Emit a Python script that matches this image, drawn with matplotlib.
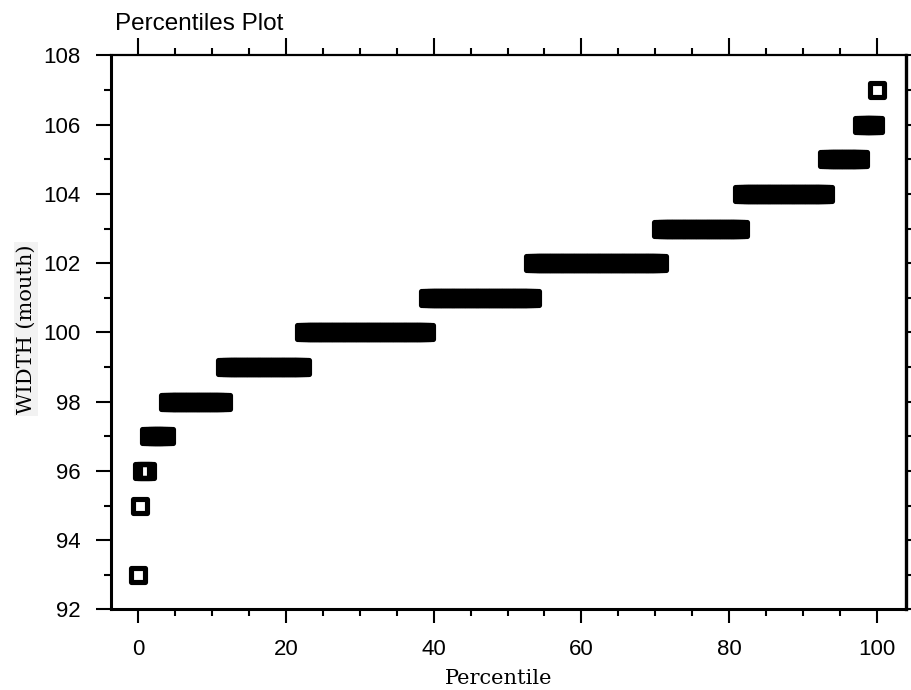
import numpy as np
import matplotlib
matplotlib.use("Agg")
import matplotlib.pyplot as plt
from matplotlib.markers import MarkerStyle
from matplotlib.ticker import MultipleLocator

# Mouth width measurements as a frequency table (value -> number of cases)
width_values = [93, 95, 96, 97, 98, 99, 100, 101, 102, 103, 104, 105, 106, 107]
width_counts = [1, 1, 4, 10, 31, 43, 67, 57, 69, 44, 46, 19, 8, 1]

x_ticks = [0, 20, 40, 60, 80, 100]
y_ticks = [92, 94, 96, 98, 100, 102, 104, 106, 108]

title_text = "Percentiles Plot"
x_label = "Percentile"
y_label = "WIDTH (mouth)"

plt.rcParams["font.family"] = ["Liberation Sans", "DejaVu Sans"]

# Sorted sample and the percentile rank of each observation
sorted_widths = np.repeat(width_values, width_counts)
n_obs = sorted_widths.size
percentiles = 100.0 * np.arange(n_obs) / (n_obs - 1)

fig = plt.figure(figsize=(9.12, 6.9), dpi=100)
ax = fig.add_axes([0.1217, 0.1167, 0.8712, 0.8029])

hollow_square = MarkerStyle("s", fillstyle="none", joinstyle="round")
ax.plot(percentiles, sorted_widths, linestyle="none", marker=hollow_square,
        markersize=10.3, markeredgewidth=3.7, markeredgecolor="black",
        color="black")

ax.set_xlim(-3.65, 103.85)
ax.set_ylim(92, 108)
ax.set_xticks(x_ticks)
ax.set_yticks(y_ticks)
ax.xaxis.set_minor_locator(MultipleLocator(5))
ax.yaxis.set_minor_locator(MultipleLocator(1))

ax.tick_params(axis="x", which="major", length=10, width=1.5, pad=11,
               labelsize=16, direction="out")
ax.tick_params(axis="x", which="minor", length=5, width=1.5, direction="out")
ax.tick_params(axis="y", which="major", length=11, width=1.5, pad=11,
               labelsize=16, direction="out")
ax.tick_params(axis="y", which="minor", length=5, width=1.5, direction="out")

for side in ("left", "bottom"):
    ax.spines[side].set_linewidth(2.2)
ax.spines["top"].set_visible(False)
ax.spines["right"].set_visible(False)

# Frame on top and right with their own tick lengths
top = ax.secondary_xaxis("top")
top.set_xticks(x_ticks, labels=[""] * len(x_ticks))
top.xaxis.set_minor_locator(MultipleLocator(5))
top.tick_params(which="major", length=12, width=1.5)
top.tick_params(which="minor", length=5, width=1.5)
top.spines["top"].set_linewidth(1.6)

right = ax.secondary_yaxis("right")
right.set_yticks(y_ticks, labels=[""] * len(y_ticks))
right.yaxis.set_minor_locator(MultipleLocator(1))
right.tick_params(which="major", length=5, width=1.5)
right.tick_params(which="minor", length=4, width=1.5)
right.spines["right"].set_linewidth(2.4)

ax.set_xlabel(x_label, family="DejaVu Serif", fontsize=15)
ax.xaxis.set_label_coords(0.488, -0.108)
ax.set_ylabel(y_label, family="DejaVu Serif", fontsize=15,
              bbox=dict(facecolor="#f2f2f2", edgecolor="none", pad=1.5))
ax.yaxis.set_label_coords(-0.095, 0.506)

fig.text(115 / 912, 1 - 29.5 / 690, title_text, fontsize=17.5,
         ha="left", va="baseline")

fig.savefig("out.png", dpi=100)
